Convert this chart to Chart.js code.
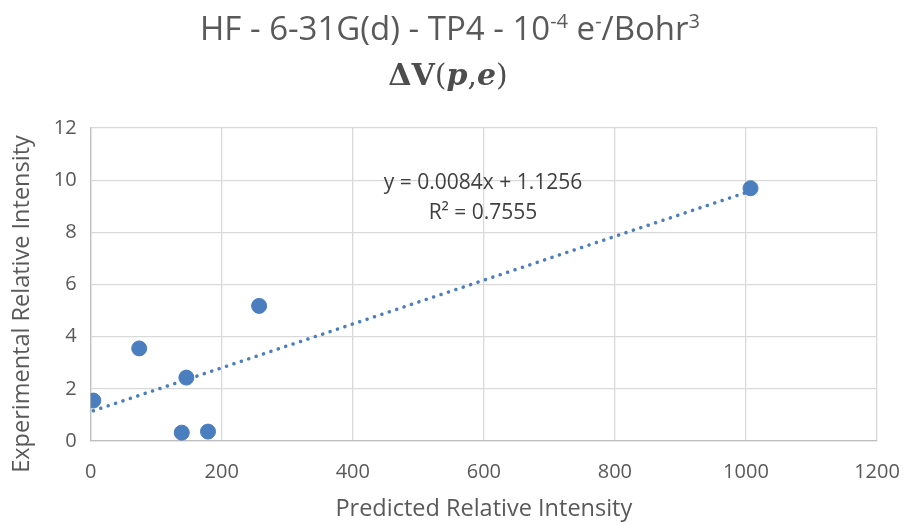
<!DOCTYPE html>
<html>
<head>
<meta charset="utf-8">
<script src="https://cdn.jsdelivr.net/npm/chart.js@4/dist/chart.umd.min.js"></script>
<style>
  html, body { margin: 0; padding: 0; background: #fff; }
  #wrap { width: 905px; height: 525px; }
</style>
</head>
<body>
<div id="wrap"><canvas id="chart" width="905" height="525"></canvas></div>
<script>
// Data
const predicted = [4, 74, 146, 139, 179, 257, 1007];
const experimental = [1.55, 3.55, 2.43, 0.32, 0.36, 5.18, 9.69];

// Trendline as printed on the chart
const slope = 0.0084;
const intercept = 1.1256;
const trendLabel = ['y = 0.0084x + 1.1256', 'R\u00b2 = 0.7555'];

const xTicks = [0, 200, 400, 600, 800, 1000, 1200];
const yTicks = [0, 2, 4, 6, 8, 10, 12];

const fontName = '"Open Sans", sans-serif';
const grey = '#595959';
const dotBlue = '#4a7ebf';

const xMin = Math.min(...predicted);
const xMax = Math.max(...predicted);

// Title, y title and equation drawn by hand (superscripts, math letters, offsets)
const titlePlugin = {
  id: 'titleDraw',
  afterDraw(chart) {
    const ctx = chart.ctx;
    ctx.save();
    ctx.fillStyle = grey;
    ctx.textBaseline = 'alphabetic';

    // line 1 : text pieces, superscript flag
    const parts = [
      ['HF - 6-31G(d) - TP4 - 10', false],
      ['-4', true],
      [' e', false],
      ['-', true],
      ['/Bohr', false],
      ['3', true]
    ];
    const big = '33px ' + fontName;
    const small = '20px ' + fontName;
    let total = 0;
    parts.forEach(p => { ctx.font = p[1] ? small : big; total += ctx.measureText(p[0]).width; });
    let x = 450 - total / 2;
    parts.forEach(p => {
      ctx.font = p[1] ? small : big;
      ctx.fillText(p[0], x, p[1] ? 28 : 40);
      x += ctx.measureText(p[0]).width;
    });

    // line 2 : ΔV(p,e)
    const parts2 = [
      ['\u0394V', 'bold 30px "DejaVu Serif", serif'],
      ['(', '30px "DejaVu Serif", serif'],
      ['p', 'bold italic 30px "DejaVu Serif", serif'],
      [',', '30px "DejaVu Serif", serif'],
      ['e', 'bold italic 30px "DejaVu Serif", serif'],
      [')', '30px "DejaVu Serif", serif']
    ];
    ctx.fillStyle = '#4d4d4d';
    total = 0;
    parts2.forEach(p => { ctx.font = p[1]; total += ctx.measureText(p[0]).width; });
    x = 448 - total / 2;
    parts2.forEach(p => {
      ctx.font = p[1];
      ctx.fillText(p[0], x, 85);
      x += ctx.measureText(p[0]).width;
    });

    // trendline equation
    ctx.fillStyle = '#404040';
    ctx.font = '21px ' + fontName;
    ctx.textAlign = 'center';
    ctx.fillText(trendLabel[0], 483, 189);
    ctx.fillText(trendLabel[1], 483, 219);

    // y axis title
    ctx.fillStyle = grey;
    ctx.font = '23.5px ' + fontName;
    ctx.translate(22, 304);
    ctx.rotate(-Math.PI / 2);
    ctx.textBaseline = 'middle';
    ctx.fillText('Experimental Relative Intensity', 0, 0);
    ctx.restore();
  }
};

new Chart(document.getElementById('chart'), {
  type: 'scatter',
  data: {
    datasets: [
      {
        label: 'points',
        data: predicted.map((v, i) => ({ x: v, y: experimental[i] })),
        backgroundColor: dotBlue,
        borderColor: dotBlue,
        pointRadius: 7.5,
        pointHoverRadius: 7.5,
        order: 1
      },
      {
        label: 'trend',
        type: 'line',
        data: [
          { x: xMin, y: slope * xMin + intercept },
          { x: xMax, y: slope * xMax + intercept }
        ],
        borderColor: dotBlue,
        borderWidth: 3.5,
        borderDash: [0.1, 7.7],
        borderCapStyle: 'round',
        pointRadius: 0,
        fill: false,
        order: 2
      }
    ]
  },
  options: {
    responsive: false,
    animation: false,
    layout: { autoPadding: false, padding: { top: 128, right: 28, left: 0, bottom: 0 } },
    plugins: {
      legend: { display: false },
      tooltip: { enabled: false }
    },
    scales: {
      x: {
        type: 'linear',
        min: 0,
        max: 1200,
        afterBuildTicks: s => { s.ticks = xTicks.map(v => ({ value: v })); },
        afterFit: s => { s.height = 84; s.paddingLeft = 0; s.paddingRight = 0; },
        grid: { color: '#d9d9d9', lineWidth: 1.3, drawTicks: false },
        border: { color: '#bfbfbf', width: 1.3 },
        ticks: {
          color: grey,
          font: { family: fontName, size: 20 },
          padding: 19,
          callback: v => String(v)
        },
        title: {
          display: true,
          text: 'Predicted Relative Intensity',
          color: grey,
          font: { family: fontName, size: 23.5 },
          padding: { top: 0, bottom: 2 }
        }
      },
      y: {
        type: 'linear',
        min: 0,
        max: 12,
        afterBuildTicks: s => { s.ticks = yTicks.map(v => ({ value: v })); },
        afterFit: s => { s.width = 90.7; s.paddingTop = 0; s.paddingBottom = 0; },
        grid: { color: '#d9d9d9', lineWidth: 1.3, drawTicks: false },
        border: { color: '#bfbfbf', width: 1.3 },
        ticks: { color: grey, font: { family: fontName, size: 20 }, padding: 14 },
        title: { display: false }
      }
    }
  },
  plugins: [titlePlugin]
});
</script>
</body>
</html>
